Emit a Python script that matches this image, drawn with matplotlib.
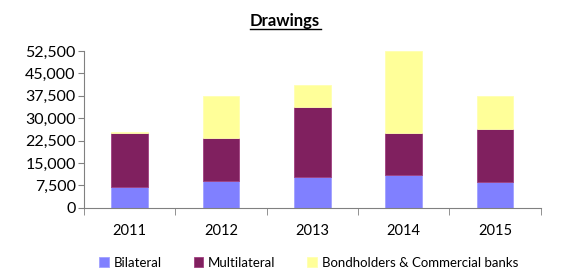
import numpy as np
import matplotlib
matplotlib.use("Agg")
import matplotlib.pyplot as plt
from matplotlib.ticker import FuncFormatter

plt.rcParams['font.family'] = ['Lato', 'DejaVu Sans']

years = ['2011', '2012', '2013', '2014', '2015']
bilateral = [7000, 9000, 10300, 10850, 8600]
multilateral = [18100, 14300, 23400, 14300, 17700]
bondholders = [250, 14200, 7300, 27350, 11000]
yticks = [0, 7500, 15000, 22500, 30000, 37500, 45000, 52500]

fig = plt.figure(figsize=(5.73, 2.70), dpi=100)
ax = fig.add_axes([84 / 573, 1 - 207.7 / 270, (540.7 - 84) / 573, (207.7 - 51) / 270])

x = np.arange(len(years))
b1 = np.array(bilateral)
b2 = b1 + np.array(multilateral)
ax.bar(x, bilateral, 0.4, color='#8080FF', edgecolor='#A0A0FF', linewidth=0.6, label='Bilateral')
ax.bar(x, multilateral, 0.4, bottom=b1, color='#80205F', edgecolor='#A04080', linewidth=0.6, label='Multilateral')
ax.bar(x, bondholders, 0.4, bottom=b2, color='#FFFF99', edgecolor='#FFFFB0', linewidth=0.6,
       label='Bondholders & Commercial banks')

ax.set_xlim(-0.5, len(years) - 0.5)
ax.set_ylim(0, 52500)
ax.set_yticks(yticks)
ax.yaxis.set_major_formatter(FuncFormatter(lambda v, p: f'{int(v):,}'))
ax.set_xticks(x)
ax.set_xticklabels(years)
ax.set_xticks(np.arange(-0.5, len(years)), minor=True)
ax.tick_params(axis='x', which='major', length=0, pad=12, labelsize=10.5)
ax.tick_params(axis='x', which='minor', length=5, direction='out', color='#808080')
ax.tick_params(axis='y', length=4, direction='out', color='#808080', labelsize=11.5, pad=2)

for s in ['top', 'right']:
    ax.spines[s].set_visible(False)
ax.spines['left'].set_color('#808080')
ax.spines['bottom'].set_color('#808080')

fig.text(285 / 573, 1 - 26 / 270, 'Drawings', ha='center', va='baseline', fontsize=12, fontweight='bold')
fig.add_artist(plt.Line2D([250 / 573, 321 / 573], [1 - 29 / 270, 1 - 29 / 270], color='black', linewidth=1))

fig.legend(loc='center', bbox_to_anchor=(0.539, 0.027), ncol=3, frameon=False, fontsize=9.5,
           handlelength=0.7, handleheight=0.7, columnspacing=2.4, handletextpad=0.4)

fig.savefig('out.png', dpi=100)
